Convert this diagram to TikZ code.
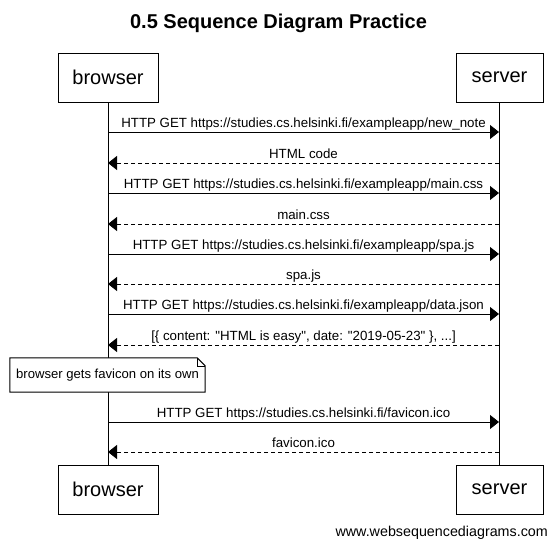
\documentclass[tikz,border=0pt]{standalone}
\usepackage{fontspec}
\setmainfont{Liberation Sans}
\newfontfamily\plainsans{Liberation Sans}
\usetikzlibrary{arrows.meta}
\tikzset{
  actor/.style={draw, line width=1pt, minimum height=49pt, inner sep=0pt,
    font=\fontsize{20}{24}\selectfont},
  life/.style={line width=1pt},
  msg/.style={line width=1pt, -{Triangle[length=9pt,width=14pt]}},
  reply/.style={msg, dash pattern=on 4pt off 3pt},
  lbl/.style={anchor=base, yshift=5pt, inner sep=0pt,
    font=\fontsize{13.3}{15}\selectfont},
  notebox/.style={minimum width=195pt, minimum height=34pt, inner sep=0pt,
    font=\fontsize{13.1}{15}\selectfont}
}
\begin{document}
\begin{tikzpicture}[x=1pt,y=-1pt]
\useasboundingbox (0,0) rectangle (557,549);
\node[anchor=base, font=\fontsize{20}{24}\selectfont\bfseries] (title) at (278.5,28) {0.5 Sequence Diagram Practice};
% participants
\node[actor, minimum width=100pt] (browser) at (108,77.5) {browser};
\node[actor, minimum width=87pt] (server) at (499.5,77.5) {server};
\node[actor, minimum width=100pt] (browserend) at (108,489.5) {browser};
\node[actor, minimum width=87pt] (serverend) at (499.5,489.5) {server};
\draw[life] (browser) -- (browserend);
\draw[life] (server) -- (serverend);
% message rows
\foreach \n/\y in {1/132,2/163,3/193,4/224,5/254,6/284,7/314,8/345,9/422,10/452}
{
\coordinate (b\n) at (108,\y);
\coordinate (s\n) at (499,\y);
}
\draw[msg] (b1) -- node[lbl] {HTTP GET https://studies.cs.helsinki.fi/exampleapp/new\_note} (s1);
\draw[reply] (s2) -- node[lbl] {HTML code} (b2);
\draw[msg] (b3) -- node[lbl] {HTTP GET https://studies.cs.helsinki.fi/exampleapp/main.css} (s3);
\draw[reply] (s4) -- node[lbl] {main.css} (b4);
\draw[msg] (b5) -- node[lbl] {HTTP GET https://studies.cs.helsinki.fi/exampleapp/spa.js} (s5);
\draw[reply] (s6) -- node[lbl] {spa.js} (b6);
\draw[msg] (b7) -- node[lbl] {HTTP GET https://studies.cs.helsinki.fi/exampleapp/data.json} (s7);
\draw[reply] (s8) -- node[lbl] {\plainsans [\{ content: "HTML is easy", date: "2019-05-23" \}, ...]} (b8);
% note
\node[notebox] (note) at (107.5,375) {};
\draw[line width=1pt, fill=white] (note.north west) -- ([xshift=-8pt]note.north east)
  -- ([yshift=-8pt]note.north east) -- (note.south east) -- (note.south west) -- cycle;
\draw[line width=0.6pt] ([xshift=-8pt]note.north east) -- ([xshift=-8pt,yshift=-8pt]note.north east)
  -- ([yshift=-8pt]note.north east);
\node[notebox] (notetext) at (note.center) {browser gets favicon on its own};
\draw[msg] (b9) -- node[lbl] {HTTP GET https://studies.cs.helsinki.fi/favicon.ico} (s9);
\draw[reply] (s10) -- node[lbl] {favicon.ico} (b10);
\node[anchor=base east, inner sep=0pt, font=\fontsize{14.3}{16}\selectfont] (credit) at (548,536) {www.websequencediagrams.com};
\end{tikzpicture}
\end{document}
